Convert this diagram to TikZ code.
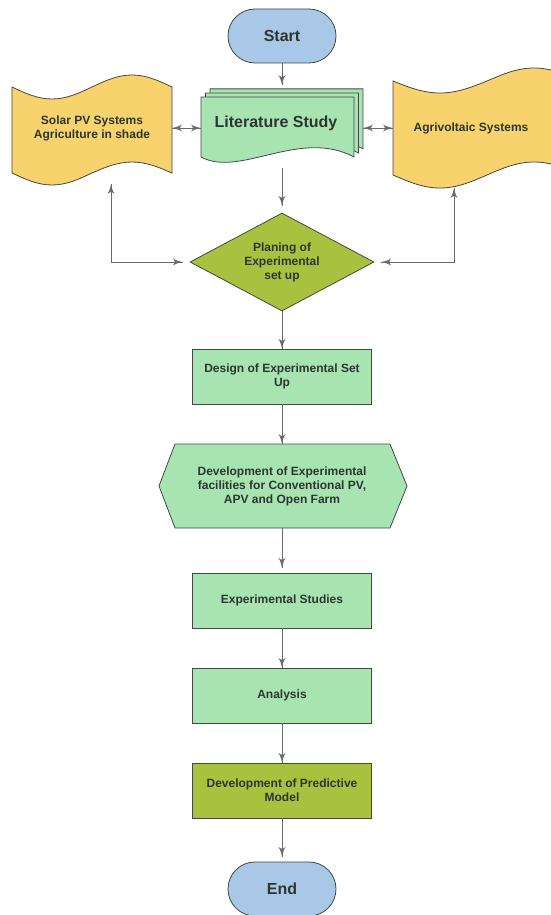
\documentclass[tikz,border=0pt]{standalone}
\usepackage{fontspec}
\setmainfont{Liberation Sans}
\usepackage{tikz}
\usetikzlibrary{arrows}
\usetikzlibrary{decorations.markings}
\usetikzlibrary{shapes.geometric}
\tikzset{->/.style = {decoration={markings,
                                  mark=at position 1 with {\arrow[scale=2]{latex'}}},
                      postaction={decorate}}}
\tikzset{<->/.style = {decoration={markings,
                                   mark=at position 0 with {\arrowreversed[scale=2]{latex'}},
                                   mark=at position 1 with {\arrow[scale=2]{latex'}}},
                       postaction={decorate}}}
\definecolor{mblue}{HTML}{A9C8E8}
\definecolor{mgreen}{HTML}{A8E4B2}
\definecolor{molive}{HTML}{A8C240}
\definecolor{myellow}{HTML}{F8D26C}
\definecolor{mborder}{HTML}{404A44}
\definecolor{mline}{HTML}{6A6A6A}
\definecolor{mtext}{HTML}{2C362E}
\tikzset{shapeline/.style = {draw=mborder, line width=0.8pt}}
\tikzset{term/.style = {shapeline, fill=mblue, rounded corners=27pt,
                        minimum width=108pt, minimum height=54pt,
                        font=\bfseries\fontsize{16}{18}\selectfont}}
\tikzset{box/.style = {shapeline, fill=mgreen, align=center,
                       minimum width=179pt, minimum height=55pt}}
\tikzset{link/.style = {draw=mline, line width=0.7pt}}

\begin{document}
\begin{tikzpicture}[x=1pt, y=-1pt, text=mtext,
                    font=\bfseries\fontsize{12}{14}\selectfont]
    \useasboundingbox (0,0) rectangle (550,915);

    % side tapes
    \draw [shapeline, fill=myellow] (12,87) sin (52,99) cos (92,87) sin (132,75) cos (172,87)
      -- (172,173) sin (132,162) cos (92,173) sin (52,185) cos (12,173) -- cycle;
    \draw [shapeline, fill=myellow] (393,81) sin (440,93) cos (487,81) sin (534,68) cos (581,81)
      -- (581,175) sin (534,162) cos (487,175) sin (440,188) cos (393,175) -- cycle;
    \node [align=center, minimum width=160pt, minimum height=112pt] (solar) at (92,128)
      {Solar PV Systems\\Agriculture in shade};
    \node [minimum width=156pt, minimum height=120pt] (agri) at (471,128) {Agrivoltaic Systems};

    % stacked documents
    \foreach \d in {9, 4.5, 0} {
      \draw [shapeline, fill=mgreen, shift={(\d,-0.9*\d)}] (201,97) -- (354,97) -- (354,157)
        .. controls (300,128) and (240,178) .. (201,157) -- cycle;
    }
    \node [minimum width=162pt, minimum height=69pt,
           font=\bfseries\fontsize{16}{18}\selectfont] (lit) at (282,123.5)
      {Literature Study\hspace*{12pt}};

    \node [term] (start) at (282,36) {Start};

    \node [diamond, shapeline, fill=molive, aspect=2, inner sep=0pt, align=center,
           minimum width=184pt, minimum height=98pt] (plan) at (282,262)
      {Planing of\\Experimental\\set up};

    \node [box] (design) at (282,376.5) {Design of Experimental Set\\Up};

    \draw [shapeline, fill=mgreen] (159,486) -- (175,444) -- (390,444) -- (407,486)
      -- (390,528) -- (175,528) -- cycle;
    \node [align=center, minimum width=215pt, minimum height=84pt] (devel) at (282,486)
      {Development of Experimental\\facilities for Conventional PV,\\APV and Open Farm};

    \node [box] (study) at (282,600.5) {Experimental Studies};
    \node [box] (analysis) at (282,695.5) {Analysis};
    \node [box, fill=molive] (model) at (282,790.5) {Development of Predictive\\Model};
    \node [term] (finish) at (282,889) {End};

    \draw [link, ->] (start) -- ([yshift=4pt]lit.north);
    \draw [link, <->] (solar.east) -- (lit.west |- solar.east);
    \draw [link, <->] (lit.east |- agri.west) -- (agri.west);
    \draw [link, ->] ([yshift=-10pt]lit.south) -- ([yshift=7pt]plan.north);
    \draw [link, <->] ([xshift=19pt]solar.south) |- ([xshift=-7pt]plan.west);
    \draw [link, <->] ([xshift=-17pt]agri.south) |- ([xshift=7pt]plan.east);

    \draw [link, ->] (plan.south) -- (design.north);
    \draw [link, ->] (design.south) -- (devel.north);
    \draw [link, ->] (devel.south) -- ([yshift=5pt]study.north);
    \draw [link, ->] (study.south) -- (analysis.north);
    \draw [link, ->] (analysis.south) -- (model.north);
    \draw [link, ->] (model.south) -- ([yshift=5pt]finish.north);
  \end{tikzpicture}
\end{document}
